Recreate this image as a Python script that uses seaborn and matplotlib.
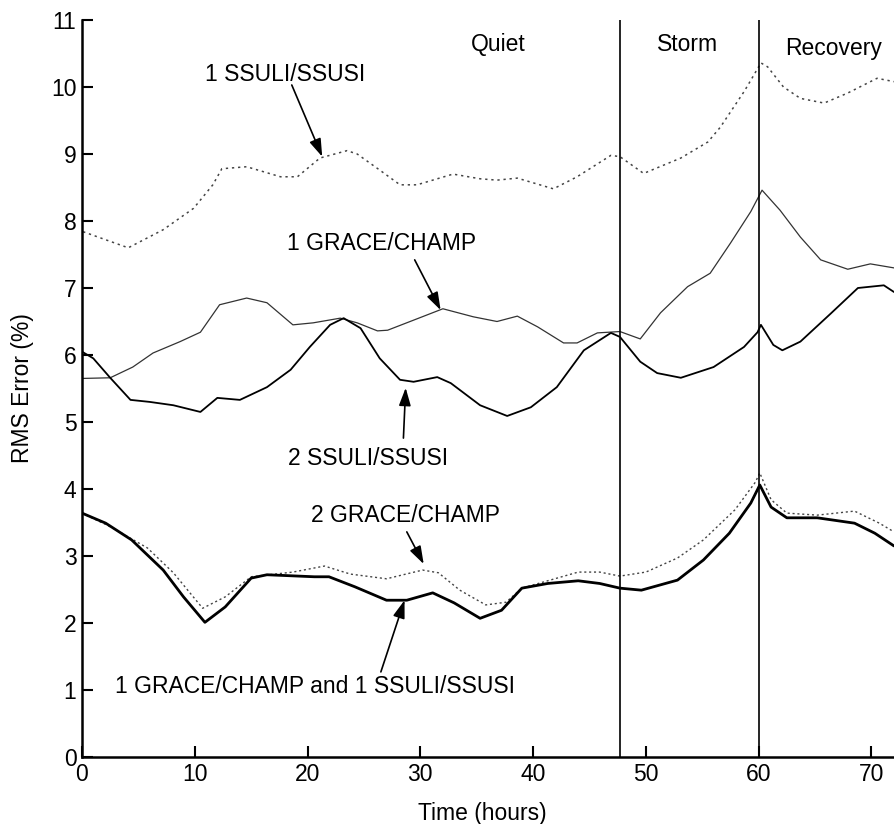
import matplotlib
matplotlib.use("Agg")
import matplotlib.pyplot as plt
import seaborn as sns
import pandas as pd

# ---- data ----
s1_x = [0.1, 4.1, 7.2, 9.9, 11.6, 12.4, 14.6, 17.6, 19.1, 21.1, 23.5, 24.4, 26.4, 28.2, 29.7,
        32.9, 35.3, 36.8, 38.6, 41.8, 43.9, 46.9, 47.7, 49.8, 53.1, 55.5, 56.6, 58.7, 59.3,
        60.2, 60.8, 62.2, 63.7, 65.8, 67.9, 70.5, 72.0]
s1_y = [7.84, 7.6, 7.87, 8.19, 8.54, 8.78, 8.81, 8.66, 8.66, 8.94, 9.05, 9.0, 8.76, 8.54, 8.54,
        8.70, 8.63, 8.61, 8.64, 8.48, 8.66, 8.98, 8.96, 8.71, 8.94, 9.18, 9.40, 9.93, 10.1,
        10.36, 10.3, 10.0, 9.83, 9.76, 9.91, 10.13, 10.08]

g1_x = [0.0, 2.5, 4.5, 6.3, 8.7, 10.5, 12.2, 14.6, 16.4, 18.7, 20.5, 22.9, 24.4, 26.2, 27.1,
        29.4, 32.0, 34.7, 36.8, 38.6, 40.4, 42.7, 43.9, 45.7, 47.7, 49.5, 51.3, 53.7, 55.7,
        57.5, 59.3, 60.3, 61.9, 63.7, 65.5, 67.9, 69.9, 72.0]
g1_y = [5.65, 5.66, 5.82, 6.03, 6.2, 6.34, 6.75, 6.85, 6.78, 6.45, 6.48, 6.55, 6.48, 6.36, 6.37,
        6.52, 6.69, 6.57, 6.5, 6.58, 6.42, 6.18, 6.18, 6.33, 6.35, 6.24, 6.63, 7.02, 7.22,
        7.67, 8.14, 8.46, 8.16, 7.76, 7.42, 7.28, 7.36, 7.3]

s2_x = [0.0, 1.0, 2.5, 4.3, 6.0, 8.1, 10.5, 12.0, 14.0, 16.4, 18.5, 20.2, 22.0, 23.2, 24.7,
        26.4, 28.2, 29.4, 31.5, 32.7, 35.3, 37.1, 37.7, 39.8, 42.1, 44.5, 46.9, 47.7, 49.5,
        51.0, 53.1, 56.0, 58.7, 59.9, 60.2, 61.3, 62.1, 63.7, 66.4, 68.8, 71.1, 72.0]
s2_y = [6.05, 5.95, 5.66, 5.33, 5.3, 5.25, 5.15, 5.36, 5.33, 5.52, 5.78, 6.12, 6.45, 6.55, 6.4,
        5.95, 5.63, 5.6, 5.67, 5.58, 5.25, 5.13, 5.09, 5.22, 5.52, 6.07, 6.33, 6.27, 5.9,
        5.73, 5.66, 5.82, 6.12, 6.34, 6.45, 6.15, 6.07, 6.2, 6.62, 7.0, 7.04, 6.94]

g2_x = [0.0, 2.6, 5.8, 8.1, 10.7, 12.7, 15.0, 18.7, 21.5, 23.8, 27.0, 30.2, 31.6, 33.5, 35.8,
        37.6, 39.0, 44.0, 45.9, 47.7, 50.0, 52.8, 55.1, 57.9, 59.7, 60.1, 61.1, 62.5, 65.2,
        68.5, 70.7, 72.0]
g2_y = [3.64, 3.43, 3.12, 2.75, 2.22, 2.39, 2.69, 2.76, 2.85, 2.73, 2.66, 2.79, 2.75, 2.49, 2.27,
        2.31, 2.52, 2.76, 2.76, 2.7, 2.76, 2.97, 3.24, 3.69, 4.1, 4.24, 3.84, 3.64, 3.61,
        3.67, 3.49, 3.36]

gs_x = [0.0, 2.1, 4.4, 7.2, 9.0, 10.9, 12.7, 15.0, 16.4, 20.6, 21.9, 24.2, 27.0, 28.8, 31.1,
        33.0, 35.3, 37.2, 39.0, 41.3, 44.0, 45.9, 47.7, 49.6, 52.8, 55.1, 57.4, 59.3, 60.1,
        61.1, 62.5, 65.2, 68.5, 70.3, 72.0]
gs_y = [3.64, 3.49, 3.24, 2.79, 2.39, 2.01, 2.24, 2.67, 2.72, 2.69, 2.69, 2.54, 2.34, 2.34, 2.45,
        2.3, 2.07, 2.19, 2.52, 2.59, 2.63, 2.59, 2.52, 2.49, 2.64, 2.94, 3.34, 3.79, 4.06,
        3.73, 3.57, 3.57, 3.49, 3.34, 3.15]

phase_bounds = [47.7, 60.0]
phase_labels = ["Quiet", "Storm", "Recovery"]
x_ticks = [0, 10, 20, 30, 40, 50, 60, 70]
y_ticks = list(range(0, 12))

sns.set_theme(style="ticks")
plt.rcParams['font.family'] = ['Liberation Sans', 'DejaVu Sans']
plt.rcParams.update({"text.color": "black", "axes.labelcolor": "black",
                     "xtick.color": "black", "ytick.color": "black",
                     "axes.edgecolor": "black"})

fig = plt.figure(figsize=(8.94, 8.24), dpi=100)
ax = fig.add_axes([82/894, 67/824, 1 - 82/894, (757-20)/824])

def draw(x, y, **kw):
    df = pd.DataFrame({"x": x, "y": y})
    sns.lineplot(data=df, x="x", y="y", ax=ax, estimator=None, sort=False, **kw)

draw(s1_x, s1_y, color="#444444", linewidth=1.1, linestyle=(0, (1.5, 2.5)))
draw(g1_x, g1_y, color="#333333", linewidth=0.9)
draw(s2_x, s2_y, color="black", linewidth=1.3)
draw(g2_x, g2_y, color="#444444", linewidth=1.0, linestyle=(0, (1.5, 2)))
draw(gs_x, gs_y, color="black", linewidth=2.0)

for b in phase_bounds:
    ax.axvline(b, color="black", linewidth=1.2)

ax.set_xlim(0, 72)
ax.set_ylim(0, 11)
ax.set_xticks(x_ticks)
ax.set_yticks(y_ticks)
ax.tick_params(direction="in", length=8, width=1.5, labelsize=16.5, pad=4)
for side in ["top", "right"]:
    ax.spines[side].set_visible(False)
for side in ["left", "bottom"]:
    ax.spines[side].set_linewidth(1.8)
ax.set_xlabel("Time (hours)", fontsize=16.5)
ax.set_ylabel("RMS Error (%)", fontsize=16.5)
ax.xaxis.set_label_coords(400/812, -45/737)
ax.yaxis.set_label_coords(-48/812, 0.5)

fs = 16.5
ax.text(36.9, 10.63, phase_labels[0], ha="center", va="center", fontsize=fs)
ax.text(53.7, 10.63, phase_labels[1], ha="center", va="center", fontsize=fs)
ax.text(66.6, 10.58, phase_labels[2], ha="center", va="center", fontsize=fs)

labels = [
    ("1 SSULI/SSUSI", (18.0, 10.18), (18.6, 10.03), (21.3, 8.96)),
    ("1 GRACE/CHAMP", (26.6, 7.67), (29.5, 7.42), (31.8, 6.67)),
    ("2 SSULI/SSUSI", (25.4, 4.46), (28.5, 4.76), (28.7, 5.51)),
    ("2 GRACE/CHAMP", (28.7, 3.61), (28.8, 3.36), (30.3, 2.88)),
    ("1 GRACE/CHAMP and 1 SSULI/SSUSI", (20.7, 1.05), (26.5, 1.27), (28.6, 2.34)),
]
for txt, pos, tail, tip in labels:
    ax.text(pos[0], pos[1], txt, ha="center", va="center", fontsize=fs)
    ax.annotate("", xy=tip, xytext=tail,
                arrowprops=dict(arrowstyle="-|>,head_length=0.9,head_width=0.3",
                                color="black", lw=1.2, shrinkA=0, shrinkB=0))

fig.savefig("out.png", dpi=100)
